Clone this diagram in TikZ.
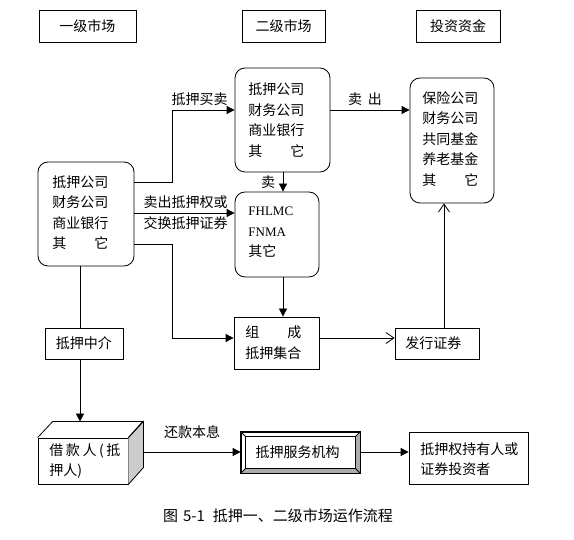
\documentclass[tikz,border=0pt]{standalone}
\usepackage{fontspec}
\setmainfont{Noto Sans CJK SC}
\newfontfamily\lat{Liberation Serif}
\usetikzlibrary{arrows.meta}
\begin{document}
\begin{tikzpicture}[x=1pt,y=-1pt,line width=0.8pt,
  sbox/.style={draw,inner sep=0pt,font=\fontsize{14}{20.5}\selectfont},
  rbox/.style={draw,rounded corners=10pt,inner sep=0pt},
  txt/.style={inner sep=0pt,align=left,font=\fontsize{14}{20.5}\selectfont},
  lab/.style={inner sep=0pt,font=\fontsize{14}{20.5}\selectfont},
  fa/.style={-{Triangle[length=8pt,width=8pt]}},
  oa/.style={-{Straight Barb[length=8pt,width=11pt,line width=0.8pt]}}]
\useasboundingbox (0,0) rectangle (574,540);
% header boxes
\node[sbox,minimum width=97pt,minimum height=32pt] (h1) at (87.5,26) {一级市场};
\node[sbox,minimum width=83pt,minimum height=32pt] (h2) at (283.5,26) {二级市场};
\node[sbox,minimum width=84pt,minimum height=32pt] (h3) at (458,26) {投资资金};
% rounded boxes
\node[rbox,minimum width=96pt,minimum height=104pt] (lb) at (86,214) {};
\node[txt,anchor=west] (lbt) at (52,212.5) {抵押公司\\财务公司\\商业银行\\\makebox[4em][s]{其\hfill 它}};
\node[rbox,minimum width=95pt,minimum height=104pt] (sb) at (282.5,120) {};
\node[txt,anchor=west] (sbt) at (248,120) {抵押公司\\财务公司\\商业银行\\\makebox[4em][s]{其\hfill 它}};
\node[rbox,minimum width=84pt,minimum height=85pt] (fb) at (277,234.5) {};
\node[txt,anchor=west] (fbt) at (248,232.5) {{\lat\fontsize{13}{20.5}\selectfont FHLMC}\\{\lat\fontsize{13}{20.5}\selectfont FNMA}\\其它};
\node[rbox,minimum width=84pt,minimum height=125pt] (ib) at (452,140.5) {};
\node[txt,anchor=west] (ibt) at (422,139) {保险公司\\财务公司\\共同基金\\养老基金\\\makebox[4em][s]{其\hfill 它}};
% rectangular boxes
\node[sbox,minimum width=78pt,minimum height=31pt] (mid) at (84,343.5) {抵押中介};
\node[sbox,minimum width=85pt,minimum height=52pt] (zc) at (276.5,343) {};
\node[txt,anchor=west] (zct) at (245,342.5) {\makebox[4em][s]{组\hfill 成}\\抵押集合};
\node[sbox,minimum width=84pt,minimum height=31pt] (fx) at (437,343.5) {};
\node[txt,anchor=west] (fxt) at (405,343.5) {发行证券};
\node[sbox,minimum width=119pt,minimum height=52pt] (cy) at (468.5,458) {};
\node[txt,anchor=west] (cyt) at (420,459) {抵押权持有人或\\证券投资者};
% 3D box
\node[sbox,minimum width=90pt,minimum height=46pt] (jk) at (83,461) {};
\fill[gray!40] (jk.north east) -- ++(15,-16) -- ++(0,46) -- (jk.south east) -- cycle;
\draw (jk.north east) -- ++(15,-16) -- ++(0,46) -- (jk.south east);
\draw (jk.north west) -- ++(15,-16) -- ++(90,0) -- (jk.north east);
\coordinate (jtop) at ([shift={(15,-16)}]jk.north west);
\coordinate (jr) at ([xshift=15pt]jk.east);
\node[txt,anchor=west] (jkt) at (49,461) {\makebox[71pt][s]{借\hfill 款\hfill 人\hfill (\hfill 抵}\\押人)};
% bevel box
\node[sbox,fill=white,minimum width=119pt,minimum height=41pt] (fw) at (300.5,452.5) {};
\fill[gray!65] (fw.south west) -- (fw.south east) -- (fw.north east) -- ([shift={(-5,5)}]fw.north east) -- ([shift={(-5,-5)}]fw.south east) -- ([shift={(5,-5)}]fw.south west) -- cycle;
\draw ([shift={(5,5)}]fw.north west) rectangle ([shift={(-5,-5)}]fw.south east);
\draw (fw.north west) -- ([shift={(5,5)}]fw.north west);
\draw (fw.south west) -- ([shift={(5,-5)}]fw.south west);
\draw (fw.north east) -- ([shift={(-5,5)}]fw.north east);
\draw (fw.south east) -- ([shift={(-5,-5)}]fw.south east);
\draw (fw.north west) rectangle (fw.south east);
\node[lab] (fwt) at (297.5,452.5) {抵押服务机构};
% connectors
\coordinate (k1) at (172,182);
\coordinate (k2) at (172,110);
\coordinate (k3) at (0,213);
\coordinate (k4) at (283,0);
\coordinate (k5) at (172,244);
\coordinate (k6) at (172,338);
\coordinate (k7) at (444,0);
\coordinate (k8) at (80,0);
\coordinate (k9) at (0,452);
\draw[fa] (lb.east |- k1) -- (k1) -- (k2) -- (sb.west |- k2);
\draw[fa] (sb.east |- k2) -- (ib.west |- k2);
\draw[fa] (lb.east |- k3) -- (fb.west |- k3);
\draw[fa] (sb.south -| k4) -- (fb.north -| k4);
\draw[fa] (lb.east |- k5) -- (k5) -- (k6) -- (zc.west |- k6);
\draw[fa] (fb.south -| k4) -- (zc.north -| k4);
\draw[oa] (zc.east |- k6) -- (fx.west |- k6);
\draw[oa] (fx.north -| k7) -- (ib.south -| k7);
\draw (lb.south -| k8) -- (mid.north -| k8);
\draw[fa] (mid.south -| k8) -- (k8 |- jtop);
\draw[fa] (jr |- k9) -- (fw.west |- k9);
\draw[fa] (fw.east |- k9) -- (cy.west |- k9);
% labels
\node[lab] (l1) at (199.5,99) {抵押买卖};
\node[lab] (l2) at (365,99) {卖\hspace{0.4em}出};
\node[lab] (l3) at (185.5,202) {卖出抵押权或};
\node[lab] (l4) at (185.5,223) {交换抵押证券};
\node[lab] (l5) at (268,182) {卖};
\node[lab] (l6) at (192,432) {还款本息};
\node[inner sep=0pt,font=\fontsize{15}{17}\selectfont] (cap) at (278,516) {图\hspace{5pt}5-1\hspace{8pt}抵押一、二级市场运作流程};
\end{tikzpicture}
\end{document}
